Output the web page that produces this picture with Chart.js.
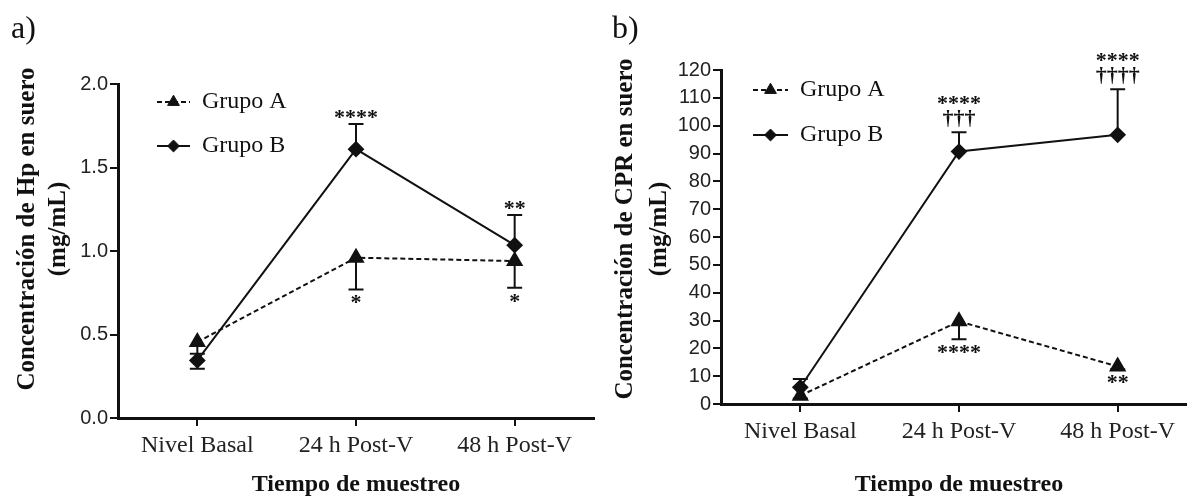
<!DOCTYPE html>
<html>
<head>
<meta charset="utf-8">
<script src="https://cdn.jsdelivr.net/npm/chart.js@4.4.1/dist/chart.umd.min.js"></script>
<style>
html,body{margin:0;padding:0;background:#fff;overflow:hidden;width:1187px;height:497px;position:relative;}
#wrapA{position:absolute;left:0;top:0;width:604px;height:497px;}
#wrapB{position:absolute;left:590px;top:0;width:617px;height:497px;}
.panel{position:absolute;font-family:"Liberation Serif",serif;font-size:32px;color:#111;line-height:1;}
</style>
</head>
<body>
<div id="wrapA"><canvas id="cA" width="604" height="497"></canvas></div>
<div id="wrapB"><canvas id="cB" width="617" height="497"></canvas></div>
<div class="panel" style="left:11px;top:11px">a)</div>
<div class="panel" style="left:612px;top:11px">b)</div>
<script>
// ---------- data ----------
const categories = ['Nivel Basal', '24 h Post-V', '48 h Post-V'];
const seriesNames = ['Grupo A', 'Grupo B'];

// Panel a) Hp (mg/mL)
const hpGrupoA = [0.455, 0.96, 0.94];
const hpGrupoB = [0.345, 1.61, 1.035];
const hpErrA = [0.07, 0.19, 0.16];
const hpErrB = [0.05, 0.15, 0.18];
const hpErrDirA = [-1, -1, -1];
const hpErrDirB = [-1, 1, 1];
const hpSigA = ['', '*', '*'];
const hpSigB = ['', '****', '**'];
const hpYMax = 2.0;
const hpYStep = 0.5;
const hpYTitle = ['Concentración de Hp en suero', '(mg/mL)'];

// Panel b) CPR (mg/mL)
const cprGrupoA = [3, 29.7, 13.5];
const cprGrupoB = [6, 90.7, 96.7];
const cprErrA = [1, 6.4, 1];
const cprErrB = [3, 6.9, 16.4];
const cprErrDirA = [-1, -1, -1];
const cprErrDirB = [1, 1, 1];
const cprSigA = ['', '****', '**'];
const cprSigB = ['', '****\n†††', '****\n††††'];
const cprYMax = 120;
const cprYStep = 10;
const cprYTitle = ['Concentración de CPR en suero', '(mg/mL)'];

const xTitle = 'Tiempo de muestreo';

// ---------- plugins ----------
const INK = '#111';

const errorBarPlugin = {
  id: 'errorBars',
  beforeDatasetsDraw(chart, args, opts) {
    const ctx = chart.ctx, ys = chart.scales.y;
    ctx.save();
    ctx.strokeStyle = INK; ctx.lineWidth = 2; ctx.setLineDash([]);
    chart.data.datasets.forEach((ds, i) => {
      const meta = chart.getDatasetMeta(i);
      const errs = opts.errors[i], dirs = opts.dirs[i];
      ds.data.forEach((v, j) => {
        const x = meta.data[j].x;
        const y0 = ys.getPixelForValue(v);
        const y1 = ys.getPixelForValue(v + dirs[j] * errs[j]);
        ctx.beginPath();
        ctx.moveTo(x, y0); ctx.lineTo(x, y1);
        ctx.moveTo(x - opts.cap / 2, y1); ctx.lineTo(x + opts.cap / 2, y1);
        ctx.stroke();
      });
    });
    ctx.restore();
  }
};

const sigPlugin = {
  id: 'sigMarks',
  afterDatasetsDraw(chart, args, opts) {
    const ctx = chart.ctx, ys = chart.scales.y;
    ctx.save();
    ctx.fillStyle = INK;
    ctx.font = opts.font;
    ctx.textAlign = 'center';
    ctx.textBaseline = 'alphabetic';
    chart.data.datasets.forEach((ds, i) => {
      const meta = chart.getDatasetMeta(i);
      const texts = opts.texts[i], errs = opts.errors[i], dirs = opts.dirs[i];
      ds.data.forEach((v, j) => {
        if (!texts[j]) return;
        const x = meta.data[j].x;
        const yEnd = ys.getPixelForValue(v + dirs[j] * errs[j]);
        const lines = texts[j].split('\n');
        if (dirs[j] > 0) {
          let bottom = yEnd - opts.gapAbove;
          for (let k = lines.length - 1; k >= 0; k--) {
            const m = ctx.measureText(lines[k]);
            const base = bottom - m.actualBoundingBoxDescent;
            ctx.fillText(lines[k], x, base);
            bottom = base - m.actualBoundingBoxAscent - opts.lineGap;
          }
        } else {
          let top = yEnd + opts.gapBelow;
          for (let k = 0; k < lines.length; k++) {
            const m = ctx.measureText(lines[k]);
            const base = top + m.actualBoundingBoxAscent;
            ctx.fillText(lines[k], x, base);
            top = base + m.actualBoundingBoxDescent + opts.lineGap;
          }
        }
      });
    });
    ctx.restore();
  }
};

const lineLegendPlugin = {
  id: 'lineLegend',
  afterDraw(chart, args, opts) {
    const ctx = chart.ctx, ca = chart.chartArea;
    ctx.save();
    chart.data.datasets.forEach((ds, i) => {
      const y = ca.top + opts.y0 + i * opts.dy;
      const x0 = ca.left + opts.x;
      const x1 = x0 + opts.lineLen;
      ctx.strokeStyle = ds.borderColor; ctx.lineWidth = ds.borderWidth;
      ctx.setLineDash(ds.borderDash || []);
      ctx.beginPath(); ctx.moveTo(x0, y); ctx.lineTo(x1, y); ctx.stroke();
      ctx.setLineDash([]);
      ctx.fillStyle = ds.pointBackgroundColor; ctx.strokeStyle = ds.pointBorderColor;
      ctx.lineWidth = 1;
      Chart.helpers.drawPoint(ctx, {pointStyle: ds.pointStyle, radius: ds.pointRadius * opts.markerScale, borderWidth: 1, rotation: 0}, (x0 + x1) / 2, y);
      ctx.fillStyle = INK;
      ctx.font = opts.font;
      ctx.textAlign = 'left'; ctx.textBaseline = 'middle';
      ctx.fillText(ds.label, x1 + opts.textGap, y);
    });
    ctx.restore();
  }
};

// shifts the y-axis title along the axis (reference title sits a bit above the axis centre)
const yTitleShiftPlugin = {
  id: 'yTitleShift',
  beforeDraw(chart, args, opts) {
    const s = chart.scales.y;
    if (s.__shifted) return;
    const orig = s.drawTitle;
    s.drawTitle = function () {
      this.ctx.save();
      this.ctx.translate(0, opts.dy);
      orig.apply(this, arguments);
      this.ctx.restore();
    };
    s.__shifted = true;
  }
};

// ---------- builder ----------
function makeChart(id, p) {
  const tickFont = {family: 'Liberation Sans', size: 20};
  return new Chart(document.getElementById(id), {
    type: 'line',
    data: {
      labels: categories,
      datasets: [
        {label: seriesNames[0], data: p.a, borderColor: INK, borderWidth: 2, borderDash: [5, 3],
         pointStyle: 'triangle', pointRadius: 8, pointBackgroundColor: INK, pointBorderColor: INK, tension: 0},
        {label: seriesNames[1], data: p.b, borderColor: INK, borderWidth: 2, borderDash: [],
         pointStyle: 'rectRot', pointRadius: 7, pointBackgroundColor: INK, pointBorderColor: INK, tension: 0}
      ]
    },
    options: {
      responsive: false,
      animation: false,
      layout: {padding: {top: p.padTop, right: p.padRight, left: 0, bottom: 0}},
      scales: {
        x: {
          offset: true,
          grid: {display: true, offset: false, drawOnChartArea: false, drawTicks: true, tickLength: 8, color: INK, lineWidth: 2},
          border: {display: true, color: INK, width: 3},
          ticks: {font: {family: 'Liberation Serif', size: 24}, color: '#222', padding: 5, maxRotation: 0, autoSkip: false},
          title: {display: true, text: xTitle, color: INK,
                  font: {family: 'Liberation Serif', size: 24, weight: 'bold', lineHeight: 1}, padding: {top: 0, bottom: p.xTitlePad}},
          afterFit(s) { s.height = p.xHeight; }
        },
        y: {
          min: 0, max: p.yMax,
          ticks: {stepSize: p.yStep, font: tickFont, color: '#222', padding: 2,
                  callback: (v) => p.yDec ? Number(v).toFixed(p.yDec) : String(v)},
          grid: {display: true, drawOnChartArea: false, drawTicks: true, tickLength: 8, color: INK, lineWidth: 2},
          border: {display: true, color: INK, width: 3},
          title: {display: true, text: p.yTitle, color: INK,
                  font: {family: 'Liberation Serif', size: 25, weight: 'bold', lineHeight: p.yTitleLH}, padding: {top: p.yTitlePad, bottom: 0}},
          afterFit(s) { s.width = p.yWidth; }
        }
      },
      plugins: {
        legend: {display: false},
        tooltip: {enabled: false},
        errorBars: {errors: [p.errA, p.errB], dirs: [p.dirA, p.dirB], cap: 15},
        sigMarks: {texts: [p.sigA, p.sigB], errors: [p.errA, p.errB], dirs: [p.dirA, p.dirB],
                   font: 'bold 22px "Liberation Serif"', gapAbove: 5, gapBelow: 6, lineGap: 5},
        lineLegend: {x: p.legX, y0: p.legY, dy: p.legDy, lineLen: p.legLen, textGap: 12, markerScale: 0.85,
                     font: '24px "Liberation Serif"'},
        yTitleShift: {dy: p.yTitleShift}
      }
    },
    plugins: [errorBarPlugin, sigPlugin, lineLegendPlugin, yTitleShiftPlugin]
  });
}

makeChart('cA', {
  a: hpGrupoA, b: hpGrupoB, errA: hpErrA, errB: hpErrB, dirA: hpErrDirA, dirB: hpErrDirB,
  sigA: hpSigA, sigB: hpSigB, yMax: hpYMax, yStep: hpYStep, yDec: 1, yTitle: hpYTitle,
  padTop: 84, padRight: 2, yWidth: 118, xHeight: 79, xTitlePad: 0,
  yTitlePad: 12, yTitleLH: 1.25, yTitleShift: -22,
  legX: 39, legY: 18, legDy: 44, legLen: 33
});

makeChart('cB', {
  a: cprGrupoA, b: cprGrupoB, errA: cprErrA, errB: cprErrB, dirA: cprErrDirA, dirB: cprErrDirB,
  sigA: cprSigA, sigB: cprSigB, yMax: cprYMax, yStep: cprYStep, yDec: 0, yTitle: cprYTitle,
  padTop: 70, padRight: 5, yWidth: 131, xHeight: 93, xTitlePad: 0,
  yTitlePad: 19, yTitleLH: 1.35, yTitleShift: -8,
  legX: 32, legY: 20, legDy: 45, legLen: 35
});
</script>
</body>
</html>
